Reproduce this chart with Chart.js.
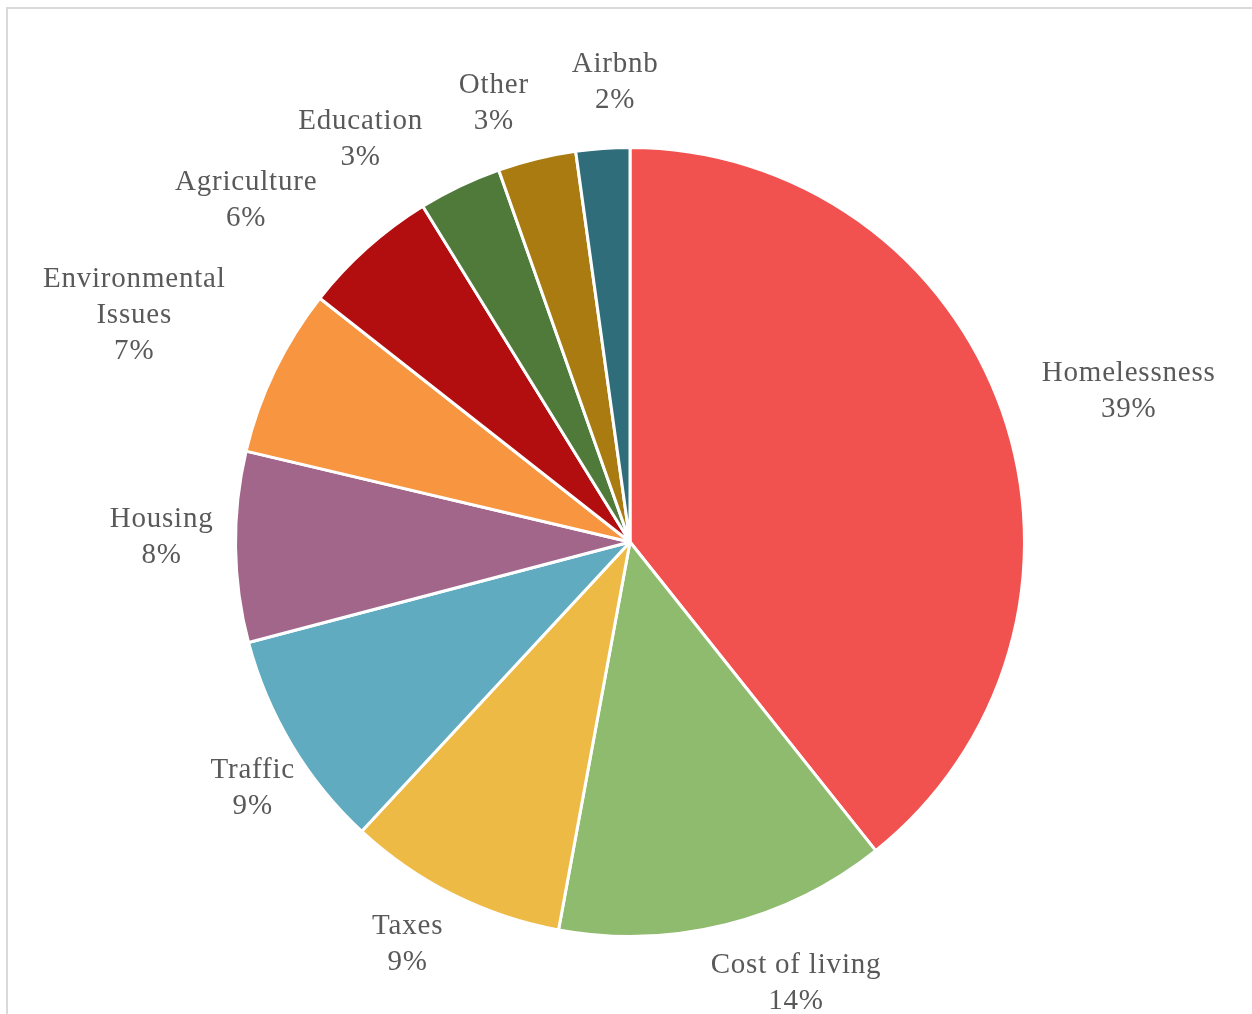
<!DOCTYPE html>
<html>
<head>
<meta charset="utf-8">
<script src="https://cdn.jsdelivr.net/npm/chart.js@4.4.1/dist/chart.umd.min.js"></script>
<style>
  html, body { margin: 0; padding: 0; background: #fff; overflow: hidden; }
  #frame { position: absolute; left: 6px; top: 7px; width: 1400px; height: 1200px; border: 2px solid #d9d9d9; }
  #wrap { position: absolute; left: 0; top: 0; width: 1252px; height: 1014px; }
</style>
</head>
<body>
<div id="frame"></div>
<div id="wrap"><canvas id="pie"></canvas></div>
<script>
// categories, clockwise from 12 o'clock
const categories = ['Homelessness', 'Cost of living', 'Taxes', 'Traffic', 'Housing',
  ['Environmental', 'Issues'], 'Agriculture', 'Education', 'Other', 'Airbnb'];
// share of responses (%)
const shares = [39.3, 13.6, 9.0, 9.0, 7.8, 6.9, 5.6, 3.4, 3.2, 2.2];
const sliceColors = ['#F15250', '#8FBB6F', '#EEBA46', '#60ABBF', '#A16689',
  '#F79541', '#B20E10', '#4F7A39', '#A97B10', '#306D7B'];

const FONT = '29px "Liberation Serif", "DejaVu Serif", serif';
const LINE_H = 36;
const GAP = 30;
// small hand nudges so labels sit where the original spreadsheet put them
const labelNudge = [[11, 20], [54, -6], [-14, -13], [29, 3], [8, -11],
  [-22, 2], [-69, 11], [-69, 16], [-27, 10], [17, 0]];

// draws "Label\nNN%" outside each slice, box edge touching a point just past the rim
const outsideLabels = {
  id: 'outsideLabels',
  afterDatasetsDraw(chart) {
    const ctx = chart.ctx;
    const meta = chart.getDatasetMeta(0);
    const total = shares.reduce((a, b) => a + b, 0);
    ctx.save();
    ctx.font = FONT;
    ctx.letterSpacing = '0.8px';
    ctx.fillStyle = '#595959';
    ctx.textAlign = 'center';
    ctx.textBaseline = 'middle';
    meta.data.forEach((arc, i) => {
      const mid = (arc.startAngle + arc.endAngle) / 2;
      const dx = Math.cos(mid), dy = Math.sin(mid);
      const name = categories[i];
      const lines = (Array.isArray(name) ? name.slice() : [name]);
      lines.push(Math.round(shares[i] / total * 100) + '%');
      const w = Math.max(...lines.map(l => ctx.measureText(l).width));
      const hw = w / 2, hh = lines.length * LINE_H / 2;
      const t = Math.min(Math.abs(dx) > 1e-6 ? hw / Math.abs(dx) : Infinity,
                         Math.abs(dy) > 1e-6 ? hh / Math.abs(dy) : Infinity);
      const ax = arc.x + dx * (arc.outerRadius + GAP);
      const ay = arc.y + dy * (arc.outerRadius + GAP);
      const cx = ax + dx * t + labelNudge[i][0];
      const cy = ay + dy * t + labelNudge[i][1];
      lines.forEach((l, k) => {
        ctx.fillText(l, cx, cy - hh + LINE_H * (k + 0.5));
      });
    });
    ctx.restore();
  }
};

new Chart(document.getElementById('pie'), {
  type: 'pie',
  data: {
    labels: categories,
    datasets: [{
      data: shares,
      backgroundColor: sliceColors,
      borderColor: '#ffffff',
      borderWidth: 3
    }]
  },
  options: {
    responsive: true,
    maintainAspectRatio: false,
    animation: false,
    layout: { padding: { left: 234, right: 226, top: 146, bottom: 76 } },
    plugins: {
      legend: { display: false },
      tooltip: { enabled: false }
    }
  },
  plugins: [outsideLabels]
});
</script>
</body>
</html>
